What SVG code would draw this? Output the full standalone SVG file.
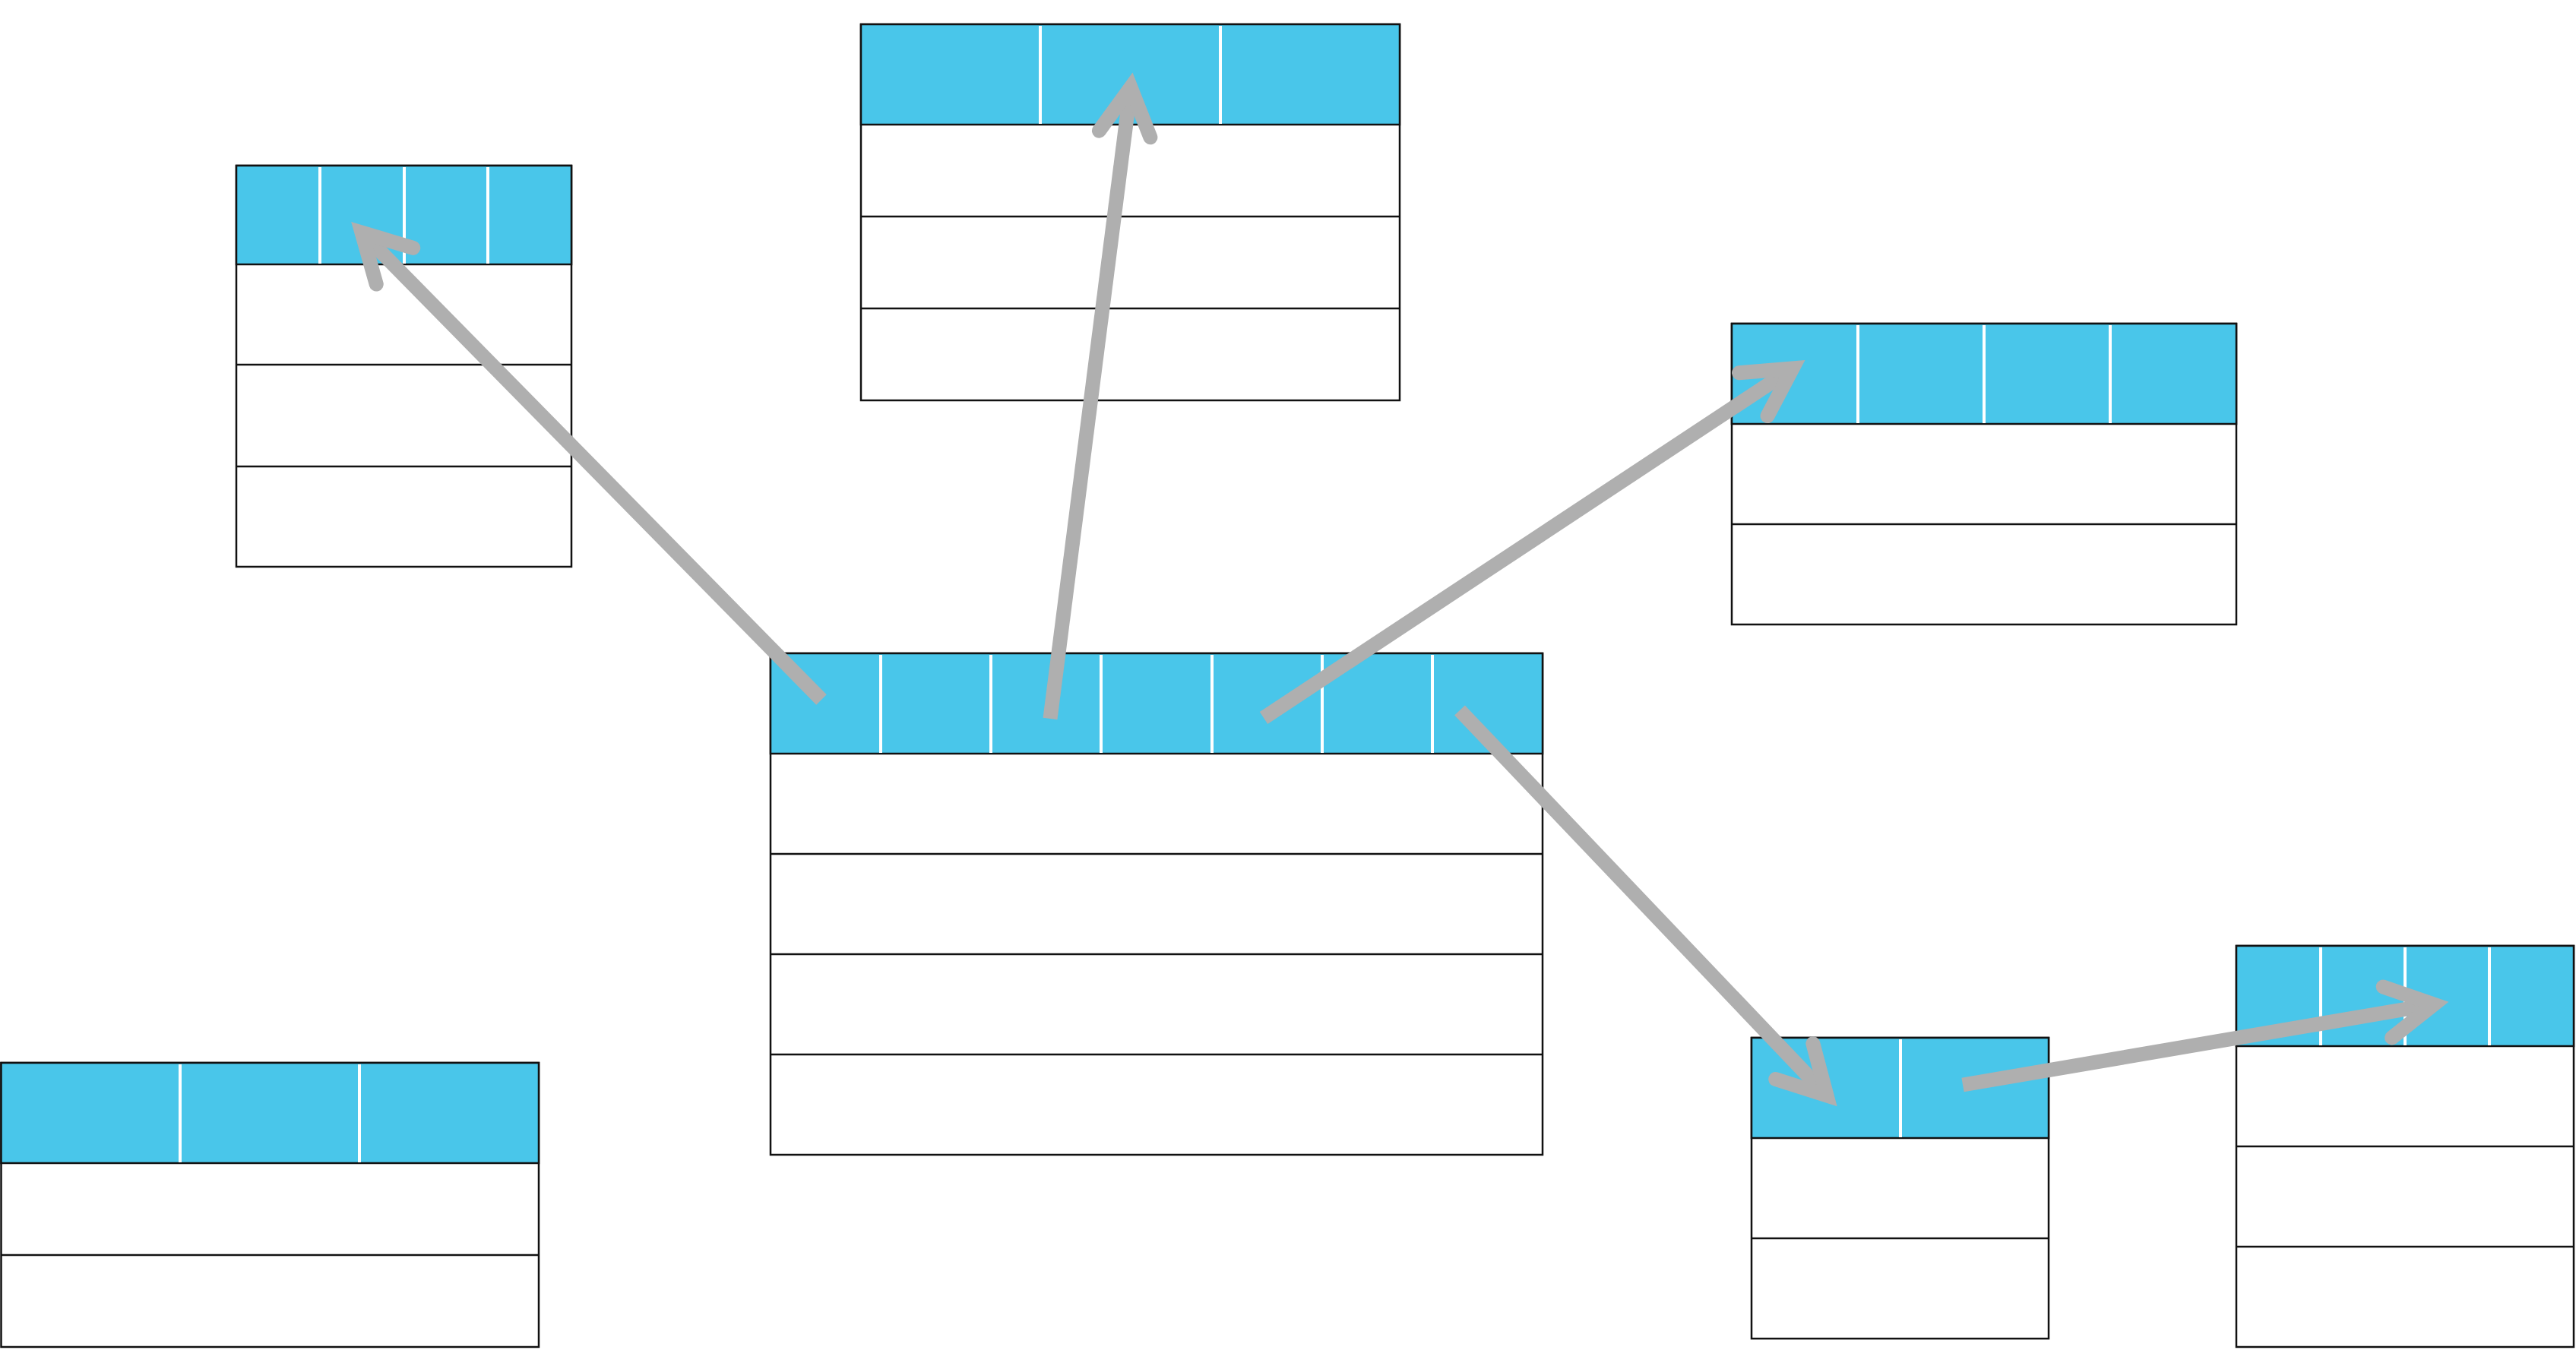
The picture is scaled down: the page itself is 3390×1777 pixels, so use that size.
<svg xmlns="http://www.w3.org/2000/svg" width="3390" height="1777" viewBox="0 0 3390 1777">
<style>
.body{fill:#ffffff;stroke:#111111;stroke-width:2.5}
.head{fill:#49c6ea;stroke:#111111;stroke-width:2.5}
.row{stroke:#111111;stroke-width:2.5}
.col{stroke:#ffffff;stroke-width:4}
.shaft{fill:none;stroke:#afafaf;stroke-width:19;stroke-linecap:butt}
</style>
<defs>
<marker id="head" markerUnits="userSpaceOnUse" markerWidth="200" markerHeight="200" refX="0" refY="0" orient="auto" overflow="visible">
<path d="M -62,-34 L 0,0 L -62,34" fill="none" stroke="#afafaf" stroke-width="19" stroke-linecap="round" stroke-linejoin="miter"/>
</marker>
</defs>
<rect width="3390" height="1777" fill="#ffffff"/>
<g id="table-a">
<rect class="body" x="311" y="218" width="441" height="528"/>
<rect class="head" x="311" y="218" width="441" height="130"/>
<line class="row" x1="311" y1="480" x2="752" y2="480"/>
<line class="row" x1="311" y1="614" x2="752" y2="614"/>
<line class="col" x1="421" y1="220" x2="421" y2="347"/>
<line class="col" x1="532" y1="220" x2="532" y2="347"/>
<line class="col" x1="642" y1="220" x2="642" y2="347"/>
</g>
<g id="table-b">
<rect class="body" x="1133" y="32" width="709" height="495"/>
<rect class="head" x="1133" y="32" width="709" height="132"/>
<line class="row" x1="1133" y1="285" x2="1842" y2="285"/>
<line class="row" x1="1133" y1="406" x2="1842" y2="406"/>
<line class="col" x1="1369" y1="34" x2="1369" y2="163"/>
<line class="col" x1="1606" y1="34" x2="1606" y2="163"/>
</g>
<g id="table-c">
<rect class="body" x="2279" y="426" width="664" height="396"/>
<rect class="head" x="2279" y="426" width="664" height="132"/>
<line class="row" x1="2279" y1="690" x2="2943" y2="690"/>
<line class="col" x1="2445" y1="428" x2="2445" y2="557"/>
<line class="col" x1="2611" y1="428" x2="2611" y2="557"/>
<line class="col" x1="2777" y1="428" x2="2777" y2="557"/>
</g>
<g id="table-d">
<rect class="body" x="1014" y="860" width="1016" height="660"/>
<rect class="head" x="1014" y="860" width="1016" height="132"/>
<line class="row" x1="1014" y1="1124" x2="2030" y2="1124"/>
<line class="row" x1="1014" y1="1256" x2="2030" y2="1256"/>
<line class="row" x1="1014" y1="1388" x2="2030" y2="1388"/>
<line class="col" x1="1159" y1="862" x2="1159" y2="991"/>
<line class="col" x1="1304" y1="862" x2="1304" y2="991"/>
<line class="col" x1="1449" y1="862" x2="1449" y2="991"/>
<line class="col" x1="1595" y1="862" x2="1595" y2="991"/>
<line class="col" x1="1740" y1="862" x2="1740" y2="991"/>
<line class="col" x1="1885" y1="862" x2="1885" y2="991"/>
</g>
<g id="table-e">
<rect class="body" x="1.5" y="1399" width="707.5" height="374"/>
<rect class="head" x="1.5" y="1399" width="707.5" height="132"/>
<line class="row" x1="1.5" y1="1652" x2="709" y2="1652"/>
<line class="col" x1="237" y1="1401" x2="237" y2="1530"/>
<line class="col" x1="473" y1="1401" x2="473" y2="1530"/>
</g>
<g id="table-f">
<rect class="body" x="2305" y="1366" width="391" height="396"/>
<rect class="head" x="2305" y="1366" width="391" height="132"/>
<line class="row" x1="2305" y1="1630" x2="2696" y2="1630"/>
<line class="col" x1="2501" y1="1368" x2="2501" y2="1497"/>
</g>
<g id="table-g">
<rect class="body" x="2943" y="1245" width="444" height="528"/>
<rect class="head" x="2943" y="1245" width="444" height="132"/>
<line class="row" x1="2943" y1="1509" x2="3387" y2="1509"/>
<line class="row" x1="2943" y1="1641" x2="3387" y2="1641"/>
<line class="col" x1="3054" y1="1247" x2="3054" y2="1376"/>
<line class="col" x1="3165" y1="1247" x2="3165" y2="1376"/>
<line class="col" x1="3276" y1="1247" x2="3276" y2="1376"/>
</g>
<g id="connectors">
<path class="shaft" d="M 1081,921 L 476,306" marker-end="url(#head)"/>
<path class="shaft" d="M 1382,946 L 1488,115" marker-end="url(#head)"/>
<path class="shaft" d="M 1663,945 L 2359,485" marker-end="url(#head)"/>
<path class="shaft" d="M 1921,935 L 2404,1442" marker-end="url(#head)"/>
<path class="shaft" d="M 2583,1428 L 3203,1322" marker-end="url(#head)"/>
</g>
</svg>
